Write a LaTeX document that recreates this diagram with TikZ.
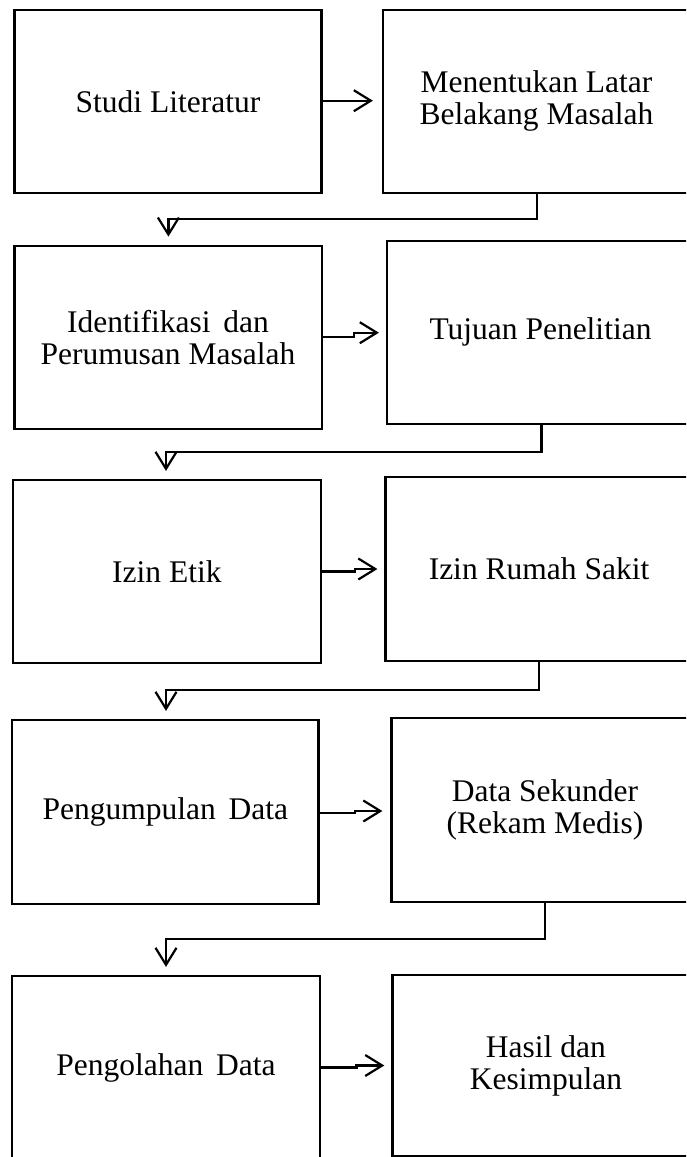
\documentclass[tikz,border=0pt]{standalone}
\usepackage{fontspec}
\setmainfont{Liberation Serif}
\usetikzlibrary{arrows.meta,calc}
\tikzset{
  box/.style={draw, line width=2.2pt, inner sep=0pt, align=center,
    font=\fontsize{31.5}{32}\selectfont},
  conn/.style={line width=2.2pt, line join=miter, -{Straight Barb[length=17pt,width=21pt]}}
}
\begin{document}
\begin{tikzpicture}[x=1pt,y=-1pt]
\useasboundingbox (0,0) rectangle (686,1157);
\clip (0,0) rectangle (686,1157);
% row 1
\node[box, minimum width=307pt, minimum height=182.7pt] (L1) at (168,101.35) {Studi Literatur};
\node[box, minimum width=307pt, minimum height=182.7pt] (R1) at (536.5,101.35) {Menentukan Latar\\Belakang Masalah};
% row 2
\node[box, minimum width=307.2pt, minimum height=183.3pt] (L2) at (168,337.35) {Identifikasi\hspace{5pt} dan\\Perumusan Masalah};
\node[box, minimum width=307pt, minimum height=183.3pt] (R2) at (540.5,332.35) {Tujuan Penelitian};
% row 3
\node[box, minimum width=307.7pt, minimum height=183pt] (L3) at (166.85,571.5) {Izin Etik};
\node[box, minimum width=307pt, minimum height=184pt] (R3) at (539,568.7) {Izin Rumah Sakit};
% row 4
\node[box, minimum width=306.3pt, minimum height=184pt] (L4) at (165.35,812) {Pengumpulan\hspace{5pt} Data};
\node[box, minimum width=307pt, minimum height=184pt] (R4) at (545,810) {Data Sekunder\\(Rekam Medis)};
% row 5
\node[box, minimum width=308pt, minimum height=184pt] (L5) at (166,1068) {Pengolahan\hspace{5pt} Data};
\node[box, minimum width=307pt, minimum height=181pt] (R5) at (545.9,1065.5) {Hasil dan\\Kesimpulan};
% horizontal arrows
\draw[conn] (L1.east |- 0,100.7) -- ($(R1.west |- 0,100.7)+(-9,0)$);
\draw[conn] (L2.east |- 0,337.3) -- (354,337.3) -- (354,332.7) -- ($(R2.west |- 0,332.7)+(-7,0)$);
\draw[conn] (L3.east |- 0,571.5) -- (355,571.5) -- (355,569) -- ($(R3.west |- 0,569)+(-7,0)$);
\draw[conn] (L4.east |- 0,812.7) -- (355,812.7) -- (355,811) -- ($(R4.west |- 0,811)+(-8,0)$);
\draw[conn] (L5.east |- 0,1067.5) -- (356.5,1067.5) -- (356.5,1065.5) -- ($(R5.west |- 0,1065.5)+(-7,0)$);
% down connectors
\draw[conn] (R1.south -| 536.7,0) |- (168.4,219) -- ($(L2.north -| 168.4,0)+(0,-8)$);
\draw[conn] (R2.south -| 541.5,0) |- (166,452) -- ($(L3.north -| 166,0)+(0,-8)$);
\draw[conn] (R3.south -| 539,0) |- (166,690) -- ($(L4.north -| 166,0)+(0,-8)$);
\draw[conn] (R4.south -| 544.6,0) |- (166,939) -- ($(L5.north -| 166,0)+(0,-8)$);
\end{tikzpicture}
\end{document}
